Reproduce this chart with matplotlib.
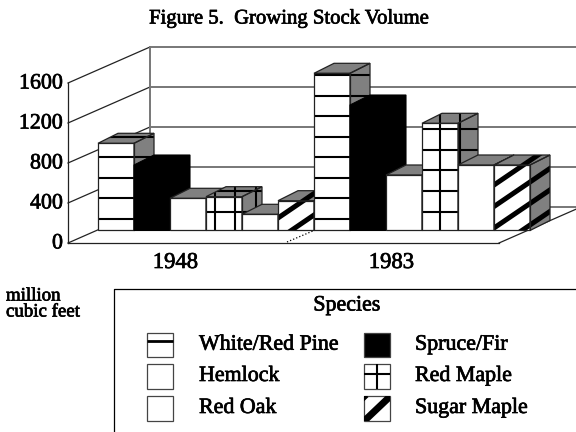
import numpy as np
import matplotlib
matplotlib.use("Agg")
import matplotlib.pyplot as plt
import matplotlib.patheffects as pe
from matplotlib.patches import Polygon, Rectangle

plt.rcParams['font.family'] = ['Liberation Serif', 'DejaVu Serif']

years = ["1948", "1983"]
species = ["White/Red Pine", "Spruce/Fir", "Hemlock", "Red Maple", "Red Oak", "Sugar Maple"]
volume_1948 = [872, 655, 322, 338, 162, 298]
volume_1983 = [1572, 1255, 555, 1072, 655, 655]
yticks = [0, 400, 800, 1200, 1600]

# one x unit is one bar (36 px), one y unit is 0.1 px
W, H = 576, 432
bar_w = 36
base_px = 230.5
left_px = 98
heavy = [pe.withStroke(linewidth=0.5, foreground="black")]

fig = plt.figure(figsize=(W / 100, H / 100), dpi=100)
ax = fig.add_axes([0, 0, 1, 1])
ax.set_xlim(-left_px / bar_w, (W - left_px) / bar_w)
ax.set_ylim(-(H - base_px) * 10, base_px * 10)
ax.axis("off")

depth_x, depth_y = 20 / 36, 100
wall_fx, wall_fy = -30 / 36, -125
wall_bx, wall_by = 52 / 36, 235
floor_right = (499 - left_px) / bar_w

# back wall and left wall
for t in yticks:
    ax.plot([wall_bx, 14], [t + wall_by, t + wall_by], color="#777777", lw=1.4, zorder=1)
    ax.plot([wall_fx, wall_bx], [t + wall_fy, t + wall_by], color="#222222", lw=0.9, zorder=1)
    ax.text(wall_fx - 5 / 36, t + wall_fy - 10, str(t), ha="right", va="center", fontsize=15.8,
            path_effects=heavy)
ax.plot([wall_fx, wall_fx], [wall_fy, 1600 + wall_fy], color="#222222", lw=0.9, zorder=1)
ax.plot([wall_bx, wall_bx], [wall_by, 1600 + wall_by], color="#777777", lw=1.4, zorder=1)
ax.plot([wall_fx, floor_right], [wall_fy, wall_fy], color="#222222", lw=0.9, zorder=1)
ax.plot([floor_right, floor_right + 82 / 36], [wall_fy, wall_by], color="#222222", lw=0.9, zorder=1)
ax.plot([(287 - left_px) / bar_w, (314 - left_px) / bar_w], [-115, 0], color="black", lw=0.9, ls=":", zorder=1)

for g, year in enumerate(years):
    ax.text(g * 6 + 2.15, -320, year, ha="center", va="center", fontsize=16.3, path_effects=heavy)


def hatch_lines(clip, kind, x0, z, phase=0):
    xs = np.array([x0 - 1, x0 + 3])
    if kind == "pine":
        levels = np.arange(115, 2000, 205.5)
        lines = [(xs, [v, v], 1.5) for v in levels]
    elif kind == "rmaple":
        levels = np.arange(188, 2000, 207)
        lines = [(xs, [v, v], 1.5) for v in levels]
        for v in np.arange(3.25, 13, 20.45 / 36):
            lines.append(([v, v], [0, 2000], 1.5))
    else:
        levels = np.arange(phase - 1075, 2400, 215)
        lines = [(xs, (xs - x0) * 245 + v, 3.6) for v in levels]
    for lx, ly, lw in lines:
        ln, = ax.plot(lx, ly, color="black", lw=lw, solid_capstyle="butt", zorder=z + 0.2)
        ln.set_clip_path(clip)


def draw_bar(x0, val, kind, z, phase=0):
    x1 = x0 + 1
    front = [(x0, 0), (x1, 0), (x1, val), (x0, val)]
    top = [(x0, val), (x1, val), (x1 + depth_x, val + depth_y), (x0 + depth_x, val + depth_y)]
    side = [(x1, 0), (x1 + depth_x, depth_y), (x1 + depth_x, val + depth_y), (x1, val)]
    outline = [(x0, 0), (x1, 0), (x1 + depth_x, depth_y), (x1 + depth_x, val + depth_y),
               (x0 + depth_x, val + depth_y), (x0, val)]
    if kind == "solid":
        ax.add_patch(Polygon(outline, fc="black", ec="black", lw=0.8, zorder=z))
        return
    ax.add_patch(Polygon(front, fc="white", ec="none", zorder=z))
    ax.add_patch(Polygon(top, fc="#808080", ec="none", zorder=z))
    ax.add_patch(Polygon(side, fc="#808080", ec="none", zorder=z))
    clip = Polygon(outline, fc="none", ec="none", zorder=z)
    ax.add_patch(clip)
    if kind != "plain":
        hatch_lines(clip, kind, x0, z, phase)
    for face in (front, top, side):
        ax.add_patch(Polygon(face, fc="none", ec="#222222", lw=0.9, zorder=z + 0.4))


kinds = ["pine", "solid", "plain", "rmaple", "plain", "sugar"]
phases = [125, 25]
for g, vals in enumerate([volume_1948, volume_1983]):
    for i, (v, k) in enumerate(zip(vals, kinds)):
        draw_bar(g * 6 + i, v, k, 2 + g * 6 + i, phases[g])

# title, unit label and legend are laid out in pixels
ov = fig.add_axes([0, 0, 1, 1])
ov.set_xlim(0, W)
ov.set_ylim(H, 0)
ov.axis("off")
ov.patch.set_alpha(0)

ov.text(288, 19, "Figure 5.  Growing Stock Volume", ha="center", va="center", fontsize=14.9, path_effects=heavy)
ov.text(6, 296, "million", ha="left", va="center", fontsize=13.6, path_effects=heavy)
ov.text(6, 312, "cubic feet", ha="left", va="center", fontsize=13.6, path_effects=heavy)
ov.plot([114, 114, 576], [432, 288.5, 288.5], color="black", lw=0.9)
ov.text(347, 306, "Species", ha="center", va="center", fontsize=15.8, path_effects=heavy)

col_x = [147.3, 363.5]
text_x = [199, 415]
row_y = [332.7, 364, 396]
legend_kinds = [["pine", "plain", "plain"], ["solid", "rmaple", "sugar"]]
legend_names = [[species[0], species[2], species[4]], [species[1], species[3], species[5]]]
sw, sh = 26, 24.7
for c, cx in enumerate(col_x):
    for r, ry in enumerate(row_y):
        k = legend_kinds[c][r]
        box = Rectangle((cx, ry), sw, sh, fc="black" if k == "solid" else "white", ec="#444444", lw=0.9, zorder=3)
        ov.add_patch(box)
        if k == "pine":
            ov.plot([cx, cx + sw], [ry + 8.5, ry + 8.5], color="black", lw=2.0, solid_capstyle="butt", zorder=4)
        elif k == "rmaple":
            ov.plot([cx, cx + sw], [ry + 10, ry + 10], color="black", lw=1.5, solid_capstyle="butt", zorder=4)
            ov.plot([cx + sw / 2, cx + sw / 2], [ry, ry + sh], color="black", lw=1.5, solid_capstyle="butt", zorder=4)
        elif k == "sugar":
            for off in (-sw, 0):
                ln, = ov.plot([cx + off, cx + off + sw], [ry + sh + 1, ry + 1], color="black", lw=5, zorder=4)
                ln.set_clip_path(box)
        ov.text(text_x[c], ry + 12.5, legend_names[c][r], ha="left", va="center", fontsize=15.8,
                path_effects=heavy)

fig.savefig("out.png", dpi=100)
